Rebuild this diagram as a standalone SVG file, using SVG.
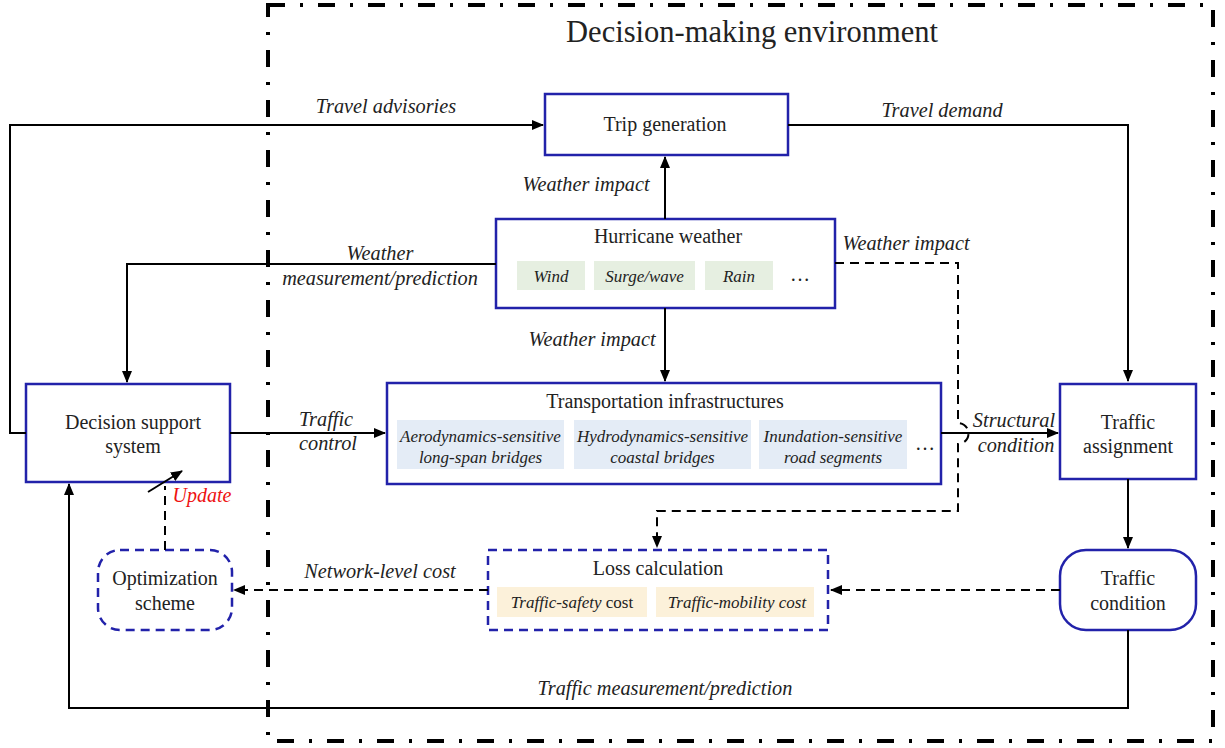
<svg xmlns="http://www.w3.org/2000/svg" width="1225" height="748" viewBox="0 0 1225 748" font-family="'Liberation Serif', 'DejaVu Serif', serif">
<style>
text{font-family:'Liberation Serif','DejaVu Serif',serif;fill:#222;}
.t{font-size:20px;text-anchor:middle;}
.l{font-size:20.3px;font-style:italic;text-anchor:middle;}
.s{font-size:17px;font-style:italic;text-anchor:middle;}
.box{fill:#fff;stroke:#2222aa;stroke-width:2.5;}
.dbox{fill:#fff;stroke:#2222aa;stroke-width:2.5;stroke-dasharray:9 6;}
.c{fill:none;stroke:#000;stroke-width:2;}
.d{fill:none;stroke:#000;stroke-width:2;stroke-dasharray:9 6;}
.g{fill:#e6efe1;}
.b{fill:#e4ecf6;}
.o{fill:#fcf1da;}
</style>
<defs>
<marker id="ah" markerWidth="12" markerHeight="10" refX="11" refY="5" orient="auto" markerUnits="userSpaceOnUse"><path d="M0,0 L12,5 L0,10 z" fill="#000"/></marker>
</defs>
<rect width="1225" height="748" fill="#fff"/>
<g id="environment">
<rect x="268" y="5" width="945" height="736" fill="none" stroke="#000" stroke-width="4" stroke-dasharray="17 15 3 15"/>
<text x="752" y="42" style="font-size:30.5px;text-anchor:middle">Decision-making environment</text>
</g>
<g id="trip-generation">
<rect class="box" x="545" y="94" width="243" height="61"/>
<text class="t" x="665" y="131">Trip generation</text>
</g>
<g id="hurricane-weather">
<rect class="box" x="496" y="219" width="339" height="89"/>
<text class="t" x="668" y="243">Hurricane weather</text>
<rect class="g" x="517" y="261" width="68" height="29"/>
<text class="s" x="551" y="282">Wind</text>
<rect class="g" x="594" y="261" width="101" height="29"/>
<text class="s" x="644.5" y="282">Surge/wave</text>
<rect class="g" x="705" y="261" width="68" height="29"/>
<text class="s" x="739" y="282">Rain</text>
<text class="t" x="800" y="281">…</text>
</g>
<g id="transportation-infrastructures">
<rect class="box" x="387" y="383" width="554" height="101"/>
<text class="t" x="665" y="408">Transportation infrastructures</text>
<rect class="b" x="397" y="420" width="167" height="49"/>
<text class="s" x="480.5" y="442">Aerodynamics-sensitive</text>
<text class="s" x="480.5" y="463">long-span bridges</text>
<rect class="b" x="574" y="420" width="177" height="49"/>
<text class="s" x="662.5" y="442">Hydrodynamics-sensitive</text>
<text class="s" x="662.5" y="463">coastal bridges</text>
<rect class="b" x="759" y="420" width="148" height="49"/>
<text class="s" x="833" y="442">Inundation-sensitive</text>
<text class="s" x="833" y="463">road segments</text>
<text class="t" x="925" y="450">…</text>
</g>
<g id="loss-calculation">
<rect class="dbox" x="488" y="550" width="340" height="80"/>
<text class="t" x="658" y="575">Loss calculation</text>
<rect class="o" x="497" y="587" width="150" height="30"/>
<text x="572" y="608" style="font-size:17px;text-anchor:middle"><tspan font-style="italic">Traffic-safety</tspan> cost</text>
<rect class="o" x="656" y="587" width="158" height="30"/>
<text class="s" x="737" y="608">Traffic-mobility cost</text>
</g>
<g id="decision-support-system">
<rect class="box" x="26" y="384" width="204" height="98"/>
<text class="t" x="133" y="429">Decision support</text>
<text class="t" x="133" y="453">system</text>
</g>
<g id="optimization-scheme">
<rect class="dbox" x="98" y="550" width="134" height="80" rx="22"/>
<text class="t" x="165" y="585">Optimization</text>
<text class="t" x="165" y="610">scheme</text>
</g>
<g id="traffic-assignment">
<rect class="box" x="1060" y="384" width="136" height="95"/>
<text class="t" x="1128" y="429">Traffic</text>
<text class="t" x="1128" y="453">assignment</text>
</g>
<g id="traffic-condition">
<rect class="box" x="1060" y="550" width="136" height="80" rx="26"/>
<text class="t" x="1128" y="585">Traffic</text>
<text class="t" x="1128" y="610">condition</text>
</g>
<g id="connectors">
<path class="c" d="M26,433 H10 V125 H543" marker-end="url(#ah)"/>
<text class="l" x="386" y="113">Travel advisories</text>
<path class="c" d="M788,125 H1128 V381" marker-end="url(#ah)"/>
<text class="l" x="942" y="117">Travel demand</text>
<path class="c" d="M665,219 V157" marker-end="url(#ah)"/>
<text class="l" x="586" y="191">Weather impact</text>
<path class="c" d="M665,308 V381" marker-end="url(#ah)"/>
<text class="l" x="592" y="346">Weather impact</text>
<path class="c" d="M496,264 H127 V382" marker-end="url(#ah)"/>
<text class="l" x="380" y="260">Weather</text>
<text class="l" x="380" y="285">measurement/prediction</text>
<path class="c" d="M230,433 H385" marker-end="url(#ah)"/>
<text class="l" x="326" y="426">Traffic</text>
<text class="l" x="328" y="450">control</text>
<path class="c" d="M941,433 H1058" marker-end="url(#ah)"/>
<text class="l" x="1014" y="427">Structural</text>
<text class="l" x="1016" y="452">condition</text>
<path class="d" d="M835,263 H958 V423 A 10 10 0 0 1 958,444 V511 H657 V547" marker-end="url(#ah)"/>
<text class="l" x="906" y="250">Weather impact</text>
<path class="d" d="M1060,590 H831" marker-end="url(#ah)"/>
<path class="d" d="M488,590 H234" marker-end="url(#ah)"/>
<text class="l" x="380" y="578">Network-level cost</text>
<path class="c" d="M1128,479 V548" marker-end="url(#ah)"/>
<path class="c" d="M1128,630 V708 H69 V484" marker-end="url(#ah)"/>
<text class="l" x="665" y="695">Traffic measurement/prediction</text>
<path class="d" d="M165,550 V486"/>
<path class="c" d="M148,492 L182,471" marker-end="url(#ah)"/>
<text x="202" y="502" style="font-size:20px;font-style:italic;text-anchor:middle;fill:#ee1111">Update</text>
</g>
</svg>
